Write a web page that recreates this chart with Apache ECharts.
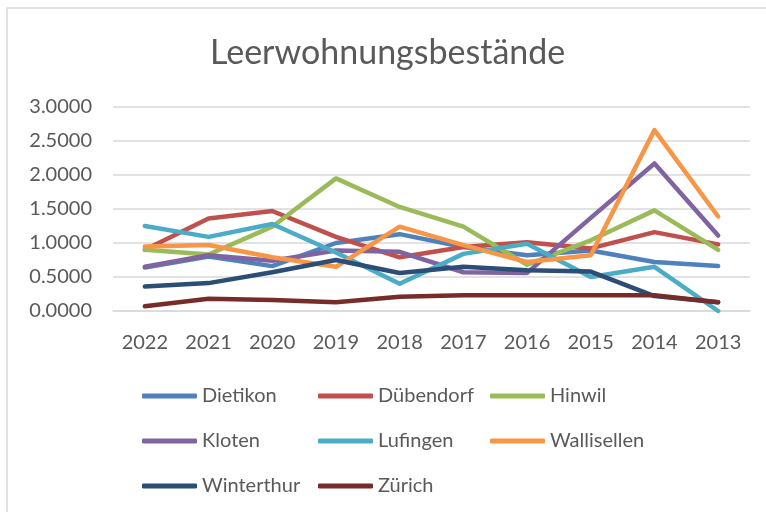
<!DOCTYPE html>
<html lang="de">
<head>
    <meta charset="UTF-8">
    <title>Leerwohnungsbestände</title>
    <script src="https://cdn.jsdelivr.net/npm/echarts@6/dist/echarts.min.js"></script>
    <style>
        html, body { margin: 0; padding: 0; background: #fff; }
    </style>
</head>

<body>
    <div id="mainChart" style="width: 766px; height: 512px;"></div>
    <script>
        let years = ['2022', '2021', '2020', '2019', '2018', '2017', '2016', '2015', '2014', '2013']

        let dietikon = [0.64, 0.80, 0.66, 1.00, 1.13, 0.94, 0.82, 0.89, 0.72, 0.66]
        let duebendorf = [0.90, 1.36, 1.47, 1.09, 0.79, 0.94, 1.01, 0.92, 1.16, 0.98]
        let hinwil = [0.90, 0.83, 1.24, 1.95, 1.53, 1.24, 0.68, 1.04, 1.48, 0.90]
        let kloten = [0.65, 0.82, 0.74, 0.89, 0.87, 0.57, 0.56, 1.37, 2.17, 1.11]
        let lufingen = [1.25, 1.09, 1.28, 0.86, 0.40, 0.84, 0.99, 0.50, 0.65, 0.00]
        let wallisellen = [0.95, 0.97, 0.79, 0.65, 1.24, 0.97, 0.72, 0.82, 2.66, 1.39]
        let winterthur = [0.36, 0.41, 0.57, 0.75, 0.56, 0.65, 0.60, 0.58, 0.22, 0.13]
        let zuerich = [0.07, 0.18, 0.16, 0.13, 0.21, 0.23, 0.23, 0.23, 0.23, 0.13]

        let names = ['Dietikon', 'Dübendorf', 'Hinwil', 'Kloten', 'Lufingen', 'Wallisellen', 'Winterthur', 'Zürich']
        let values = [dietikon, duebendorf, hinwil, kloten, lufingen, wallisellen, winterthur, zuerich]
        let colors = ['#4F81BD', '#C0504D', '#9BBB59', '#8064A2', '#4BACC6', '#F79646', '#2C4D75', '#772C2A']

        let font = 'Lato, "Open Sans", sans-serif'
        let grey = '#595959'

        function legendColumn(left, data) {
            return {
                orient: 'vertical',
                left: left,
                top: 379,
                data: data,
                icon: 'roundRect',
                itemWidth: 55,
                itemHeight: 5,
                itemGap: 21,
                selectedMode: false,
                textStyle: { color: grey, fontSize: 20, fontFamily: font, lineHeight: 24 }
            }
        }

        let chartsData = {
            animation: false,
            title: {
                text: 'Leerwohnungsbestände',
                left: 205,
                top: 31,
                textStyle: { color: grey, fontSize: 34, fontWeight: 'normal', fontFamily: font }
            },
            legend: [
                legendColumn(137, ['Dietikon', 'Kloten', 'Winterthur']),
                legendColumn(313, ['Dübendorf', 'Lufingen', 'Zürich']),
                legendColumn(485, ['Hinwil', 'Wallisellen'])
            ],
            grid: { left: 113, right: 16, top: 107, height: 204, containLabel: false },
            xAxis: {
                type: 'category',
                data: years,
                boundaryGap: true,
                axisLine: { lineStyle: { color: '#d9d9d9', width: 1.5 } },
                axisTick: { show: false },
                axisLabel: { color: grey, fontSize: 20, fontFamily: font, margin: 22 }
            },
            yAxis: {
                type: 'value',
                min: 0,
                max: 3,
                interval: 0.5,
                axisLine: { show: false },
                axisTick: { show: false },
                splitLine: { lineStyle: { color: '#d9d9d9', width: 1.5 } },
                axisLabel: {
                    color: grey, fontSize: 20, fontFamily: font, margin: 21,
                    formatter: v => v.toFixed(4)
                }
            },
            graphic: [{
                type: 'rect',
                shape: { x: 7, y: 8, width: 800, height: 600 },
                style: { fill: 'none', stroke: '#d9d9d9', lineWidth: 1.5 },
                silent: true
            }],
            series: []
        }

        for (let i = 0; i < names.length; i++) {
            chartsData.series.push({
                type: 'line',
                name: names[i],
                data: values[i],
                showSymbol: false,
                symbol: 'none',
                color: colors[i],
                itemStyle: { color: colors[i] },
                lineStyle: { color: colors[i], width: 4.5, cap: 'round', join: 'round' }
            })
        }

        let charts = echarts.init(document.querySelector('#mainChart'))
        charts.setOption(chartsData, true)
    </script>
</body>

</html>
